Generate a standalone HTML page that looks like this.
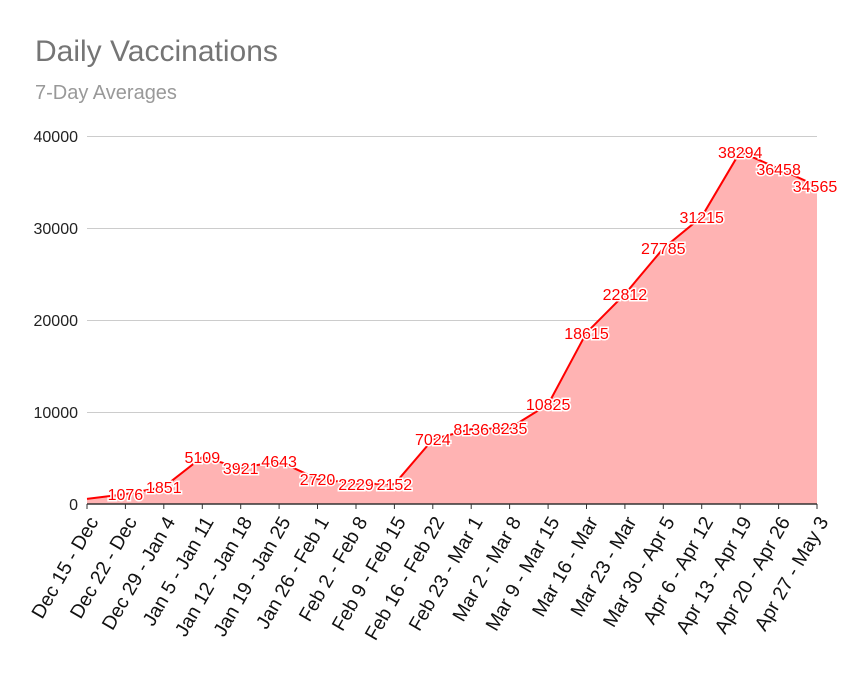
<!DOCTYPE html>
<html><head><meta charset="utf-8"><style>html,body{margin:0;padding:0;background:#fff}svg{display:block}</style></head>
<body>
<svg width="851" height="686" xmlns="http://www.w3.org/2000/svg" font-family="Liberation Sans, Arial, sans-serif">
<rect width="851" height="686" fill="#fff"/>
<text x="35" y="61" font-size="30" fill="#757575">Daily Vaccinations</text>
<text x="35" y="99" font-size="20" fill="#999">7-Day Averages</text>
<g stroke="#ccc" stroke-width="1">
<line x1="87" x2="817" y1="136.5" y2="136.5"/>
<line x1="87" x2="817" y1="228.5" y2="228.5"/>
<line x1="87" x2="817" y1="320.5" y2="320.5"/>
<line x1="87" x2="817" y1="412.5" y2="412.5"/>
</g>
<g font-size="16" fill="#222" text-anchor="end">
<text x="78" y="142">40000</text>
<text x="78" y="234">30000</text>
<text x="78" y="326">20000</text>
<text x="78" y="418">10000</text>
<text x="78" y="510">0</text>
</g>
<polygon points="87,504 87,498.9 125.4,494.1 163.8,487 202.3,457 240.7,467.9 279.1,461.3 317.5,479 356,483.5 394.4,484.2 432.8,439.4 471.2,429.1 509.6,428.2 548.1,404.4 586.5,332.7 624.9,294.1 663.3,248.4 701.7,216.8 740.2,151.7 778.6,168.6 817,186 817,504" fill="#ffb3b3"/>
<polyline points="87,498.9 125.4,494.1 163.8,487 202.3,457 240.7,467.9 279.1,461.3 317.5,479 356,483.5 394.4,484.2 432.8,439.4 471.2,429.1 509.6,428.2 548.1,404.4 586.5,332.7 624.9,294.1 663.3,248.4 701.7,216.8 740.2,151.7 778.6,168.6 817,186" fill="none" stroke="#f00" stroke-width="2"/>
<line x1="87" x2="817" y1="504" y2="504" stroke="#333" stroke-width="1.5"/>
<g stroke="#333">
<line x1="87" x2="87" y1="504" y2="509"/><line x1="125.4" x2="125.4" y1="504" y2="509"/><line x1="163.8" x2="163.8" y1="504" y2="509"/><line x1="202.3" x2="202.3" y1="504" y2="509"/><line x1="240.7" x2="240.7" y1="504" y2="509"/><line x1="279.1" x2="279.1" y1="504" y2="509"/><line x1="317.5" x2="317.5" y1="504" y2="509"/><line x1="356" x2="356" y1="504" y2="509"/><line x1="394.4" x2="394.4" y1="504" y2="509"/><line x1="432.8" x2="432.8" y1="504" y2="509"/><line x1="471.2" x2="471.2" y1="504" y2="509"/><line x1="509.6" x2="509.6" y1="504" y2="509"/><line x1="548.1" x2="548.1" y1="504" y2="509"/><line x1="586.5" x2="586.5" y1="504" y2="509"/><line x1="624.9" x2="624.9" y1="504" y2="509"/><line x1="663.3" x2="663.3" y1="504" y2="509"/><line x1="701.7" x2="701.7" y1="504" y2="509"/><line x1="740.2" x2="740.2" y1="504" y2="509"/><line x1="778.6" x2="778.6" y1="504" y2="509"/><line x1="817" x2="817" y1="504" y2="509"/>
</g>
<g font-size="19.5" fill="#111" text-anchor="end">
<text transform="translate(93,518) rotate(-60)" y="7">Dec 15 - Dec</text>
<text transform="translate(131.4,518) rotate(-60)" y="7">Dec 22 - Dec</text>
<text transform="translate(169.8,518) rotate(-60)" y="7">Dec 29 - Jan 4</text>
<text transform="translate(208.3,518) rotate(-60)" y="7">Jan 5 - Jan 11</text>
<text transform="translate(246.7,518) rotate(-60)" y="7">Jan 12 - Jan 18</text>
<text transform="translate(285.1,518) rotate(-60)" y="7">Jan 19 - Jan 25</text>
<text transform="translate(323.5,518) rotate(-60)" y="7">Jan 26 - Feb 1</text>
<text transform="translate(362,518) rotate(-60)" y="7">Feb 2 - Feb 8</text>
<text transform="translate(400.4,518) rotate(-60)" y="7">Feb 9 - Feb 15</text>
<text transform="translate(438.8,518) rotate(-60)" y="7">Feb 16 - Feb 22</text>
<text transform="translate(477.2,518) rotate(-60)" y="7">Feb 23 - Mar 1</text>
<text transform="translate(515.6,518) rotate(-60)" y="7">Mar 2 - Mar 8</text>
<text transform="translate(554.1,518) rotate(-60)" y="7">Mar 9 - Mar 15</text>
<text transform="translate(592.5,518) rotate(-60)" y="7">Mar 16 - Mar</text>
<text transform="translate(630.9,518) rotate(-60)" y="7">Mar 23 - Mar</text>
<text transform="translate(669.3,518) rotate(-60)" y="7">Mar 30 - Apr 5</text>
<text transform="translate(707.7,518) rotate(-60)" y="7">Apr 6 - Apr 12</text>
<text transform="translate(746.2,518) rotate(-60)" y="7">Apr 13 - Apr 19</text>
<text transform="translate(784.6,518) rotate(-60)" y="7">Apr 20 - Apr 26</text>
<text transform="translate(823,518) rotate(-60)" y="7">Apr 27 - May 3</text>
</g>
<g font-size="16" fill="#f00" text-anchor="middle" stroke="#fff" stroke-width="3" paint-order="stroke">
<text x="125.4" y="500">1076</text>
<text x="163.8" y="493">1851</text>
<text x="202.3" y="463">5109</text>
<text x="240.7" y="474">3921</text>
<text x="279.1" y="467">4643</text>
<text x="317.5" y="485">2720</text>
<text x="356" y="490">2229</text>
<text x="394.4" y="490">2152</text>
<text x="432.8" y="445">7024</text>
<text x="471.2" y="435">8136</text>
<text x="509.6" y="434">8235</text>
<text x="548.1" y="410">10825</text>
<text x="586.5" y="339">18615</text>
<text x="624.9" y="300">22812</text>
<text x="663.3" y="254">27785</text>
<text x="701.7" y="223">31215</text>
<text x="740.2" y="158">38294</text>
<text x="778.6" y="175">36458</text>
<text x="815" y="192">34565</text>
</g>
</svg>
</body></html>
